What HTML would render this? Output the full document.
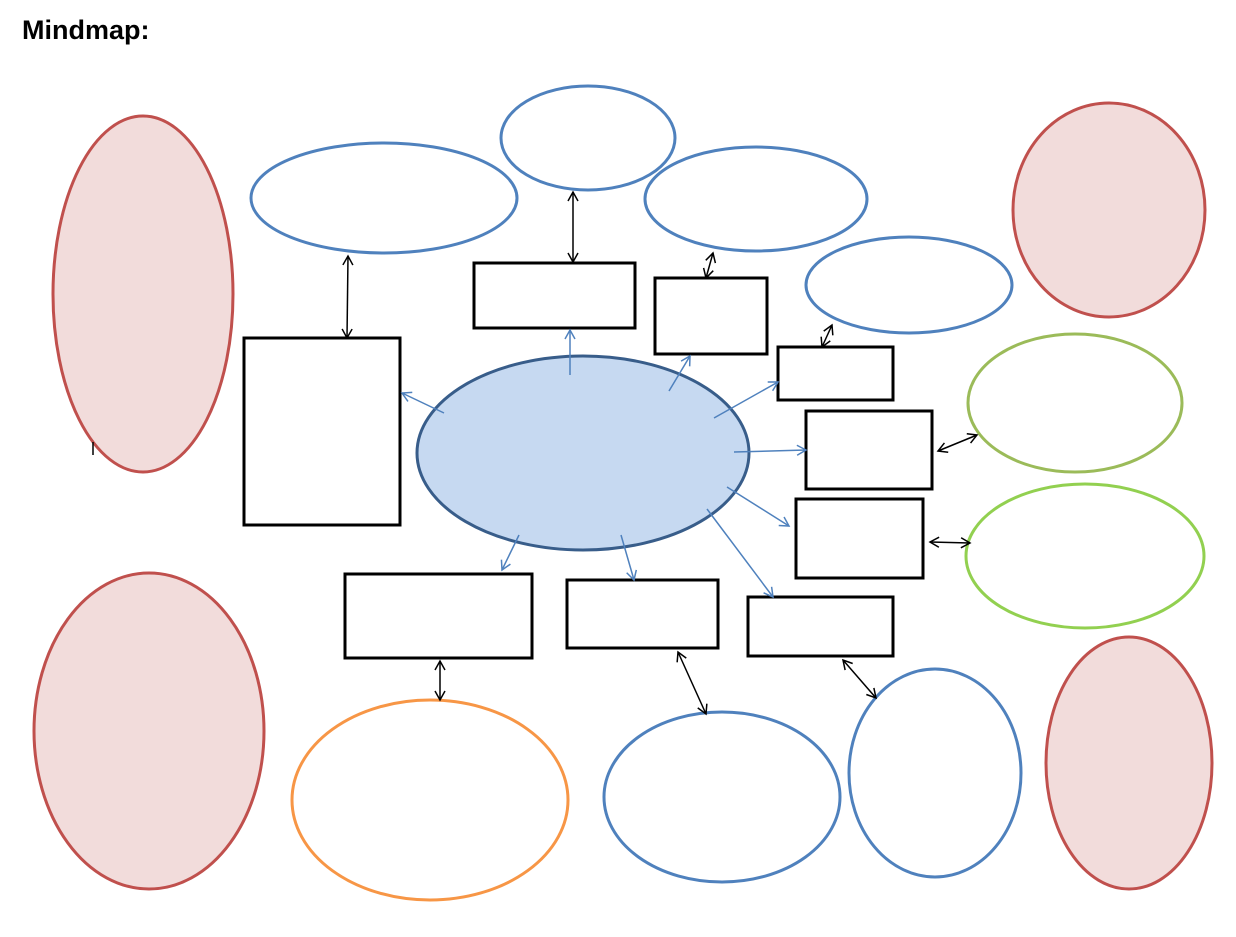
<!DOCTYPE html>
<html><head><style>
html,body{margin:0;padding:0;background:#fff;width:1236px;height:937px;overflow:hidden}
</style></head><body>
<svg width="1236" height="937" xmlns="http://www.w3.org/2000/svg">
<defs>
<marker id="b" markerWidth="12" markerHeight="12" refX="10" refY="6" orient="auto-start-reverse" markerUnits="userSpaceOnUse">
<path d="M1,1 L10,6 L1,11" fill="none" stroke="#4f81bd" stroke-width="1.5"/></marker>
<marker id="k" markerWidth="12" markerHeight="12" refX="10" refY="6" orient="auto-start-reverse" markerUnits="userSpaceOnUse">
<path d="M1,1 L10,6 L1,11" fill="none" stroke="#000" stroke-width="1.5"/></marker>
</defs>
<text x="22" y="39" font-family="Liberation Sans, sans-serif" font-weight="bold" font-size="27">Mindmap:</text>
<g fill="#f2dcdb" stroke="#c0504d" stroke-width="3">
<ellipse cx="143" cy="294" rx="90" ry="178"/>
<ellipse cx="1109" cy="210" rx="96" ry="107"/>
<ellipse cx="149" cy="731" rx="115" ry="158"/>
<ellipse cx="1129" cy="763" rx="83" ry="126"/>
</g>
<line x1="93" y1="442" x2="93" y2="455" stroke="#000" stroke-width="1.5"/>
<g fill="#fff" stroke="#4f81bd" stroke-width="3">
<ellipse cx="384" cy="198" rx="133" ry="55"/>
<ellipse cx="588" cy="138" rx="87" ry="52"/>
<ellipse cx="756" cy="199" rx="111" ry="52"/>
<ellipse cx="909" cy="285" rx="103" ry="48"/>
<ellipse cx="722" cy="797" rx="118" ry="85"/>
<ellipse cx="935" cy="773" rx="86" ry="104"/>
</g>
<ellipse cx="1075" cy="403" rx="107" ry="69" fill="#fff" stroke="#9bbb59" stroke-width="3"/>
<ellipse cx="1085" cy="556" rx="119" ry="72" fill="#fff" stroke="#92d050" stroke-width="3"/>
<ellipse cx="430" cy="800" rx="138" ry="100" fill="#fff" stroke="#f79646" stroke-width="3"/>
<ellipse cx="583" cy="453" rx="166" ry="97" fill="#c6d9f1" stroke="#385d8a" stroke-width="3"/>
<g fill="#fff" stroke="#000" stroke-width="3">
<rect x="244" y="338" width="156" height="187"/>
<rect x="474" y="263" width="161" height="65"/>
<rect x="655" y="278" width="112" height="76"/>
<rect x="778" y="347" width="115" height="53"/>
<rect x="806" y="411" width="126" height="78"/>
<rect x="796" y="499" width="127" height="79"/>
<rect x="345" y="574" width="187" height="84"/>
<rect x="567" y="580" width="151" height="68"/>
<rect x="748" y="597" width="145" height="59"/>
</g>
<g stroke="#4f81bd" stroke-width="1.5" marker-end="url(#b)">
<line x1="444" y1="413" x2="402" y2="393"/>
<line x1="570" y1="375" x2="570" y2="330"/>
<line x1="669" y1="391" x2="690" y2="356"/>
<line x1="714" y1="418" x2="778" y2="382"/>
<line x1="734" y1="452" x2="806" y2="450"/>
<line x1="727" y1="487" x2="789" y2="526"/>
<line x1="519" y1="535" x2="502" y2="570"/>
<line x1="621" y1="535" x2="634" y2="580"/>
<line x1="707" y1="509" x2="773" y2="597"/>
</g>
<g stroke="#000" stroke-width="1.5" marker-start="url(#k)" marker-end="url(#k)">
<line x1="348" y1="256" x2="347" y2="338"/>
<line x1="573" y1="192" x2="573" y2="262"/>
<line x1="713" y1="253" x2="706" y2="278"/>
<line x1="832" y1="325" x2="822" y2="347"/>
<line x1="938" y1="451" x2="977" y2="435"/>
<line x1="930" y1="542" x2="970" y2="543"/>
<line x1="440" y1="661" x2="440" y2="700"/>
<line x1="678" y1="652" x2="706" y2="714"/>
<line x1="843" y1="660" x2="876" y2="698"/>
</g>
</svg>
</body></html>
